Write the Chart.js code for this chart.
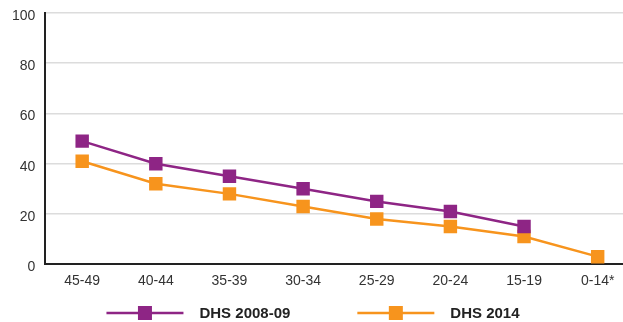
<!DOCTYPE html>
<html>
<head>
<meta charset="utf-8">
<script src="https://cdn.jsdelivr.net/npm/chart.js@4"></script>
<style>
  html, body { margin: 0; padding: 0; background: #fff; overflow: hidden; }
  #wrap { width: 644px; height: 322px; }
</style>
</head>
<body>
<div id="wrap"><canvas id="chart"></canvas></div>
<script>
// tranches d'age et valeurs
const categories = ['45-49', '40-44', '35-39', '30-34', '25-29', '20-24', '15-19', '0-14*'];
const dhs2008 = [49, 40, 35, 30, 25, 21, 15, null];
const dhs2014 = [41, 32, 28, 23, 18, 15, 11, 3];
const yTicks = [0, 20, 40, 60, 80, 100];

const purple = '#8E2585';
const orange = '#F7941D';
const fontFam = '"Liberation Sans", Arial, sans-serif';

// legende dessinee a la main : ligne + carre + texte, centree sur la fenetre
const lineLegend = {
    id: 'lineLegend',
    afterDraw(chart) {
        const g = chart.ctx;
        const lineLen = 77, sq = 14, gap = 16, between = 67;
        const y = 313;
        g.save();
        g.font = 'bold 15px ' + fontFam;
        const items = chart.data.datasets.map(ds => ({
            ds, w: lineLen + gap + g.measureText(ds.label).width
        }));
        const total = items.reduce((s, it) => s + it.w, 0) + between * (items.length - 1);
        let x = 313 - total / 2;
        items.forEach(it => {
            const c = it.ds.borderColor;
            g.strokeStyle = c;
            g.lineWidth = 2.5;
            g.beginPath();
            g.moveTo(x, y);
            g.lineTo(x + lineLen, y);
            g.stroke();
            g.fillStyle = c;
            g.fillRect(x + lineLen / 2 - sq / 2, y - sq / 2, sq, sq);
            g.fillStyle = '#222';
            g.textBaseline = 'middle';
            g.fillText(it.ds.label, x + lineLen + gap, y + 1);
            x += it.w + between;
        });
        g.restore();
    }
};

const ctx = document.getElementById('chart').getContext('2d');
new Chart(ctx, {
    type: 'line',
    data: {
        labels: categories,
        datasets: [{
            label: 'DHS 2008-09',
            data: dhs2008,
            borderColor: purple,
            backgroundColor: purple,
            borderWidth: 2.5,
            pointStyle: 'rect',
            pointRadius: 9.5,
            pointBorderWidth: 0,
            tension: 0
        }, {
            label: 'DHS 2014',
            data: dhs2014,
            borderColor: orange,
            backgroundColor: orange,
            borderWidth: 2.5,
            pointStyle: 'rect',
            pointRadius: 9.5,
            pointBorderWidth: 0,
            tension: 0
        }]
    },
    options: {
        responsive: true,
        maintainAspectRatio: false,
        animation: false,
        layout: { padding: { top: 0, left: 2, right: 0, bottom: 23 } },
        plugins: {
            tooltip: { enabled: false },
            legend: { display: false }
        },
        scales: {
            x: {
                offset: true,
                grid: { display: false, drawTicks: false },
                border: { color: '#222', width: 2 },
                ticks: {
                    color: '#333',
                    padding: 9,
                    font: { family: fontFam, size: 14 }
                }
            },
            y: {
                min: 0,
                max: 100,
                afterBuildTicks: (axis) => { axis.ticks = yTicks.map(v => ({ value: v })); },
                afterFit: (axis) => { axis.paddingTop = 13; },
                grid: { color: '#dcdcdc', lineWidth: 1.5, drawTicks: false },
                border: { color: '#222', width: 2 },
                ticks: {
                    color: '#333',
                    padding: 10,
                    labelOffset: 3,
                    font: { family: fontFam, size: 14 }
                }
            }
        }
    },
    plugins: [lineLegend]
});
</script>
</body>
</html>
